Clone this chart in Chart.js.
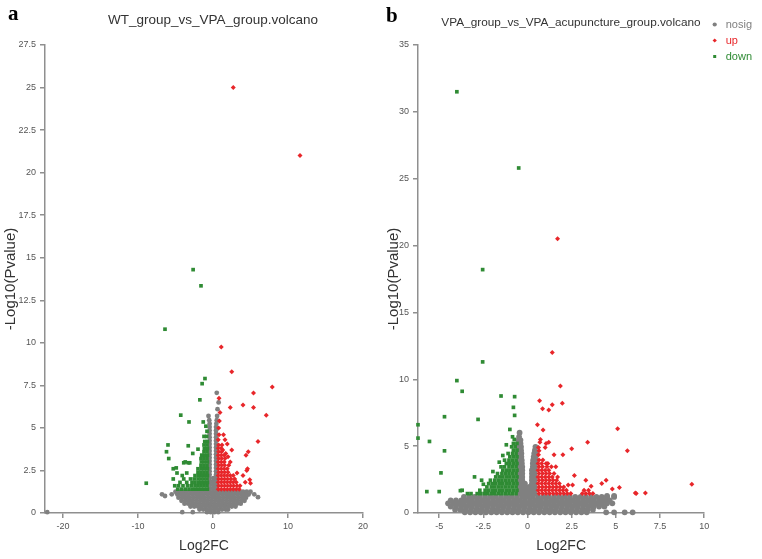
<!DOCTYPE html>
<html>
<head>
<meta charset="utf-8">
<title>Volcano plots</title>
<script src="https://cdn.jsdelivr.net/npm/chart.js@4.4.1/dist/chart.umd.min.js"></script>
<style>
  body { margin: 0; background: #fff; }
  #page { position: relative; width: 762px; height: 559px; overflow: hidden; }
  .panel { position: absolute; top: 0; height: 559px; }
  #panelA { left: 0; width: 426px; }
  #panelB { left: 380px; width: 382px; }
  .tag { position: absolute; font: bold 21px "Liberation Serif", serif; color: #000; line-height: 1; }
</style>
</head>
<body>
<div id="page">
  <div class="panel" id="panelA"><canvas id="chartA" width="426" height="559"></canvas></div>
  <div class="panel" id="panelB"><canvas id="chartB" width="382" height="559"></canvas></div>
  <div class="tag" style="left:8px;top:3px">a</div>
  <div class="tag" style="left:386px;top:5px">b</div>
</div>
<script>
// each row: [ -log10(p), [log2FC, log2FC, ...] ]

// ---- a: WT_group vs VPA_group ----
const wtNosig = [
  [1.25, [-5.0,-4.5,-4.0,-3.5,-3.0,-2.5,-2.0,-1.5,-1.0,-0.5,0.0,0.5,1.0,1.5,2.0,2.5,3.0,3.5,4.0,4.5,5.0]],
  [1.08, [-4.75,-4.25,-3.75,-3.25,-2.75,-2.25,-1.75,-1.25,-0.75,-0.25,0.25,0.75,1.25,1.75,2.25,2.75,3.25,3.75,4.25,4.75]],
  [0.9, [-4.6,-4.1,-3.6,-3.1,-2.6,-2.1,-1.6,-1.1,-0.6,-0.1,0.4,0.9,1.4,1.9,2.4,2.9,3.4,3.9,4.4]],
  [0.72, [-4.2,-3.7,-3.2,-2.7,-2.2,-1.7,-1.2,-0.7,-0.2,0.3,0.8,1.3,1.8,2.3,2.8,3.3,3.8,4.2]],
  [0.55, [-3.8,-3.3,-2.8,-2.3,-1.8,-1.3,-0.8,-0.3,0.2,0.7,1.2,1.7,2.2,2.7,3.2,3.7]],
  [0.38, [-3.0,-2.5,-2.0,-1.5,-1.0,-0.5,0.0,0.5,1.0,1.5,2.0,2.5,3.0]],
  [0.2, [-1.8,-1.3,-0.8,-0.3,0.2,0.7,1.2,1.7,2.0]],
  [0.05, [-22.1,-4.1,-2.7,-0.8,-0.3,0.2,0.7]],
  [1.1, [-6.8,-5.5,5.5]], [1.0, [-6.4]], [0.93, [6.0]],
  [1.45, [-0.45,0.0,0.4]], [1.65, [-0.45,0.0,0.4]], [1.85, [-0.45,0.0,0.4]],
  [2.05, [-0.45,0.05,0.4]], [2.25, [-0.45,0.4]], [2.45, [-0.45,0.4]],
  [2.65, [-0.45,0.4]], [2.85, [-0.45,0.4]], [3.05, [-0.45,0.4]],
  [3.25, [-0.45,0.4]], [3.45, [-0.45,0.4]], [3.65, [-0.45,0.4]],
  [3.85, [-0.45,0.4]], [4.05, [-0.45,0.4]], [4.25, [-0.45,0.4]],
  [4.45, [-0.45,0.4]], [4.65, [-0.45,0.4]], [4.85, [-0.45,0.4]],
  [5.05, [-0.45,0.4]], [5.25, [-0.45,0.45]], [5.45, [-0.5,0.5]],
  [5.7, [-0.6,0.55]], [6.1, [0.6]], [6.5, [0.75]], [7.06, [0.5]]
];
const wtUp = [
  [1.4, [0.7,1.1,1.5,1.9,2.3,2.7,3.1,3.5]],
  [1.6, [0.75,1.15,1.55,1.95,2.35,2.75,3.2,3.6]],
  [1.8, [0.7,1.1,1.5,1.9,2.3,2.7,3.1,4.3]],
  [1.75, [5.0]], [1.95, [4.9]],
  [2.0, [0.75,1.15,1.55,1.95,2.4,2.9]],
  [2.2, [0.7,1.1,1.5,1.9,2.3,2.7,4.0]],
  [2.35, [3.2]],
  [2.4, [0.75,1.15,1.55,2.0]],
  [2.5, [4.5]],
  [2.6, [0.7,1.1,1.5,1.9,4.6]],
  [2.8, [0.75,1.15,1.55,2.1]],
  [3.0, [0.7,1.1,1.5,2.3]],
  [3.2, [0.75,1.15,1.6]],
  [3.3, [2.0]],
  [3.4, [0.7,1.1,1.5,4.4]],
  [3.5, [1.7]],
  [3.6, [0.75,1.15,4.7]],
  [3.7, [1.3,2.5]],
  [3.8, [0.7,1.1]],
  [4.0, [0.75,1.2]],
  [4.05, [1.9]],
  [4.2, [6.0]],
  [4.3, [0.7,1.6]],
  [4.6, [0.8,1.4]],
  [5.0, [0.75]], [5.4, [0.85]], [5.75, [7.1]], [5.9, [0.93]],
  [6.2, [2.3,5.4]], [6.35, [4.0]], [6.75, [0.8]], [7.05, [5.4]],
  [7.4, [7.9]], [8.3, [2.5]], [9.76, [1.1]], [21.0, [11.6]], [25.0, [2.7]]
];
const wtDown = [
  [1.4, [-0.75,-1.15,-1.55,-1.95,-2.35,-2.75,-3.2,-3.7,-4.2,-4.7]],
  [1.6, [-0.8,-1.2,-1.6,-2.0,-2.4,-2.9,-3.4,-4.0,-4.6,-5.1]],
  [1.75, [-8.9]],
  [1.8, [-0.75,-1.15,-1.55,-1.95,-2.4,-2.8,-3.5,-4.4]],
  [2.0, [-0.8,-1.2,-1.6,-2.0,-2.5,-3.0,-3.9,-5.3]],
  [2.2, [-0.75,-1.15,-1.55,-1.95,-2.4,-4.1]],
  [2.35, [-4.8,-3.5]],
  [2.4, [-0.8,-1.2,-1.6,-2.0]],
  [2.6, [-0.75,-1.15,-1.55,-2.0,-5.3]],
  [2.65, [-4.9]],
  [2.8, [-0.8,-1.2,-1.6]],
  [2.95, [-3.9,-3.3,-3.1]],
  [3.0, [-0.75,-1.15,-1.55,-3.7]],
  [3.2, [-0.8,-1.2,-1.6,-5.9]],
  [3.4, [-0.75,-1.15,-1.5]],
  [3.5, [-2.7]],
  [3.6, [-0.8,-1.2,-6.2]],
  [3.75, [-2.0]],
  [3.8, [-0.75,-1.15]],
  [3.95, [-3.3]],
  [4.0, [-0.8,-1.2,-6.0]],
  [4.2, [-0.75,-1.1]],
  [4.5, [-0.85,-1.2]],
  [4.8, [-0.8]], [5.1, [-0.95]], [5.35, [-1.3,-3.2]], [5.75, [-4.3]],
  [6.65, [-1.75]], [7.6, [-1.45]], [7.9, [-1.07]], [10.8, [-6.4]],
  [13.35, [-1.6]], [14.3, [-2.65]]
];

// ---- b: VPA_group vs VPA_acupuncture_group ----
const acuNosig = [
  [1.2, [-3.6,-3.3,-3.0,-2.7,-2.4,-2.1,-1.8,-1.5,-1.2,-0.9,-0.6,-0.3,0.0,0.3,0.6,0.9,1.2,1.5,1.8,2.1,2.4,2.7,3.0,3.3,3.6,3.9,4.2,4.5,4.9]],
  [0.95, [-4.35,-4.05,-3.75,-3.45,-3.15,-2.85,-2.55,-2.25,-1.95,-1.65,-1.35,-1.05,-0.75,-0.45,-0.15,0.15,0.45,0.75,1.05,1.35,1.65,1.95,2.25,2.55,2.85,3.15,3.45,3.75,4.05,4.35,4.65]],
  [0.72, [-4.5,-4.2,-3.9,-3.6,-3.3,-3.0,-2.7,-2.4,-2.1,-1.8,-1.5,-1.2,-0.9,-0.6,-0.3,0.0,0.3,0.6,0.9,1.2,1.5,1.8,2.1,2.4,2.7,3.0,3.3,3.6,3.9,4.2,4.5,4.8]],
  [0.48, [-4.35,-4.05,-3.75,-3.45,-3.15,-2.85,-2.55,-2.25,-1.95,-1.65,-1.35,-1.05,-0.75,-0.45,-0.15,0.15,0.45,0.75,1.05,1.35,1.65,1.95,2.25,2.55,2.85,3.15,3.45,3.75,4.05,4.35]],
  [0.25, [-4.1,-3.8,-3.5,-3.2,-2.9,-2.6,-2.3,-2.0,-1.7,-1.4,-1.1,-0.8,-0.5,-0.2,0.1,0.4,0.7,1.0,1.3,1.6,1.9,2.2,2.5,2.8,3.1,3.4,3.7]],
  [0.05, [-3.55,-3.25,-2.95,-2.65,-2.35,-2.05,-1.75,-1.45,-1.15,-0.85,-0.55,-0.25,0.05,0.35,0.65,0.95,1.25,1.55,1.85,2.15,2.45,2.75,3.05,3.35,4.45,4.9,5.5,5.95]],
  [1.27, [4.5,4.9]], [1.1, [4.2]],
  [1.45, [-0.45,-0.3,-0.15,0.0,0.12,0.25,0.4]],
  [1.7, [-0.45,-0.3,-0.15,0.0,0.12,0.25,0.4]],
  [1.95, [-0.45,-0.3,-0.12,0.1,0.25,0.4]],
  [2.2, [-0.45,-0.3,-0.15,0.25,0.4]],
  [2.45, [-0.45,-0.3,0.25,0.4]],
  [2.7, [-0.45,-0.3,0.25,0.4]],
  [2.95, [-0.45,-0.3,0.25,0.4]],
  [3.2, [-0.45,-0.3,0.25,0.4]],
  [3.45, [-0.45,-0.3,0.3,0.42]],
  [3.7, [-0.45,-0.32,0.3,0.42]],
  [3.95, [-0.45,-0.33,0.32,0.44]],
  [4.2, [-0.47,-0.35,0.35,0.45]],
  [4.45, [-0.47,-0.35,0.38,0.46]],
  [4.7, [-0.48,-0.37,0.42]],
  [4.95, [-0.48,-0.37,0.45]],
  [5.2, [-0.5,-0.4]], [5.45, [-0.5,-0.4]], [5.7, [-0.48]], [6.0, [-0.45]]
];
const acuUp = [
  [1.45, [0.65,0.85,1.05,1.25,1.45,1.65,1.85,2.05,2.25,2.45,3.1,3.3,3.5,3.7,6.15]],
  [1.5, [6.1,6.67]],
  [1.7, [0.6,0.8,1.0,1.2,1.4,1.6,1.8,2.0,2.2,3.2,3.45]],
  [1.8, [4.8]], [1.9, [5.2]],
  [1.95, [0.65,0.85,1.05,1.25,1.45,1.65,1.85,2.05]],
  [2.0, [3.6]], [2.1, [2.3,2.55]], [2.15, [9.3]],
  [2.2, [0.6,0.8,1.0,1.2,1.4,1.6,1.8,4.2]],
  [2.45, [0.65,0.85,1.05,1.25,1.45,1.65,3.3,4.45]],
  [2.7, [0.6,0.8,1.0,1.2,1.4,1.7]],
  [2.8, [2.65]],
  [2.95, [0.65,0.85,1.05,1.25,1.5]],
  [3.2, [0.6,0.8,1.0,1.2]],
  [3.45, [0.65,0.85,1.1,1.35,1.6]],
  [3.7, [0.6,0.8,1.05,1.15]],
  [3.96, [0.65,0.87]],
  [4.35, [0.62,1.5,2.0]],
  [4.65, [0.65,5.65]],
  [4.8, [2.5]], [4.9, [0.62,1.0]], [5.2, [1.05]], [5.3, [0.7,1.2,3.4]],
  [5.5, [0.73]], [6.2, [0.88]], [6.3, [5.1]], [6.6, [0.56]],
  [7.7, [1.2]], [7.8, [0.85]], [8.1, [1.4]], [8.2, [1.97]], [8.4, [0.68]],
  [9.5, [1.86]], [12.0, [1.4]], [20.5, [1.7]]
];
const acuDown = [
  [1.45, [-0.65,-0.85,-1.05,-1.25,-1.45,-1.65,-1.85,-2.05,-2.25,-2.45,-2.65,-2.85,-3.2,-3.4]],
  [1.6, [-5.0,-5.7]], [1.67, [-3.8]],
  [1.7, [-0.6,-0.8,-1.0,-1.2,-1.4,-1.6,-1.8,-2.0,-2.2,-2.4,-2.7,-3.7]],
  [1.95, [-0.65,-0.85,-1.05,-1.25,-1.45,-1.65,-1.85,-2.05,-2.3]],
  [2.15, [-2.5]],
  [2.2, [-0.6,-0.8,-1.0,-1.2,-1.4,-1.6,-1.8,-2.0,-2.2]],
  [2.45, [-0.65,-0.85,-1.05,-1.25,-1.45,-1.65,-1.85,-2.1,-2.6]],
  [2.7, [-0.6,-0.8,-1.0,-1.2,-1.4,-1.6,-1.8,-3.0]],
  [2.95, [-0.65,-0.85,-1.05,-1.25,-1.45,-1.7]],
  [3.0, [-4.9]], [3.1, [-1.96]],
  [3.2, [-0.6,-0.8,-1.0,-1.2,-1.4]],
  [3.45, [-0.65,-0.85,-1.05,-1.3,-1.5]],
  [3.7, [-0.6,-0.8,-1.0,-1.2]],
  [3.8, [-1.6]],
  [3.95, [-0.65,-0.85,-1.05,-1.3]],
  [4.2, [-0.6,-0.8,-1.0]],
  [4.3, [-1.4]],
  [4.45, [-0.65,-0.85,-1.1]],
  [4.65, [-4.7]],
  [4.7, [-0.6,-0.8]],
  [4.95, [-0.7,-0.9]],
  [5.1, [-1.2]], [5.2, [-0.6,-0.8]], [5.35, [-5.55]], [5.5, [-0.75]],
  [5.6, [-6.2]], [5.7, [-0.85]], [6.25, [-1.0]], [6.6, [-6.2]],
  [7.0, [-2.8]], [7.2, [-4.7]], [7.3, [-0.73]], [7.9, [-0.8]],
  [8.7, [-0.73]], [8.75, [-1.5]], [9.1, [-3.7]], [9.9, [-4.0]],
  [11.3, [-2.54]], [18.2, [-2.54]], [25.8, [-0.5]], [31.5, [-4.0]]
];

const GREY = '#808080';
const RED = '#e8262a';
const GREEN = '#2f8b34';
const AXIS = '#8f8f8f';
const SANS = '"Liberation Sans", Arial, sans-serif';

function toPoints(rows) {
  const pts = [];
  rows.forEach(r => r[1].forEach(x => pts.push({ x: x, y: r[0] })));
  return pts;
}

function volcano(canvasId, cfg) {
  const sets = [
    { label: 'down', rows: cfg.down, style: 'rect', radius: 2.6, color: GREEN },
    { label: 'up', rows: cfg.up, style: 'rectRot', radius: 2.5, color: RED },
    { label: 'nosig', rows: cfg.nosig, style: 'circle', radius: cfg.greyRadius, color: GREY }
  ];
  return new Chart(document.getElementById(canvasId), {
    type: 'scatter',
    data: {
      datasets: sets.map(s => ({
        label: s.label,
        data: toPoints(s.rows),
        pointStyle: s.style,
        pointRadius: s.radius,
        pointHoverRadius: s.radius,
        pointBackgroundColor: s.color,
        pointBorderColor: s.color,
        pointBorderWidth: 0,
        backgroundColor: s.color,
        borderColor: s.color,
        clip: false
      }))
    },
    options: {
      responsive: false,
      animation: false,
      devicePixelRatio: 1,
      events: [],
      layout: { padding: cfg.padding },
      plugins: {
        tooltip: { enabled: false },
        title: {
          display: true,
          text: cfg.title,
          color: '#333',
          font: { family: SANS, size: cfg.titleSize, weight: 'normal' },
          padding: cfg.titlePadding
        },
        legend: {
          display: cfg.legend,
          position: 'right',
          align: 'start',
          labels: {
            usePointStyle: true,
            boxWidth: 11,
            boxHeight: 3,
            padding: 5,
            font: { family: SANS, size: 11 },
            sort: (a, b) => b.datasetIndex - a.datasetIndex,
            generateLabels: chart => Chart.defaults.plugins.legend.labels.generateLabels(chart)
              .map(item => Object.assign(item, { fontColor: sets[item.datasetIndex].color }))
          }
        }
      },
      scales: {
        x: {
          type: 'linear',
          min: cfg.xMin,
          max: cfg.xMax,
          afterFit: s => { s.height = 46; },
          ticks: {
            stepSize: cfg.xStep,
            includeBounds: false,
            autoSkip: false,
            maxRotation: 0,
            padding: 3,
            color: '#555',
            font: { family: SANS, size: 9 },
            callback: v => String(v)
          },
          grid: { drawOnChartArea: false, tickLength: 5, color: AXIS, lineWidth: 1.5 },
          border: { color: AXIS, width: 1.5 },
          title: { display: true, text: 'Log2FC', color: '#333', font: { family: SANS, size: 14 }, padding: { top: 0, bottom: 4 } }
        },
        y: {
          type: 'linear',
          min: 0,
          max: cfg.yMax,
          afterFit: s => { s.width = cfg.yWidth; },
          ticks: {
            stepSize: cfg.yStep,
            autoSkip: false,
            padding: 4,
            color: '#555',
            font: { family: SANS, size: 9 },
            callback: v => String(v)
          },
          grid: { drawOnChartArea: false, tickLength: 5, color: AXIS, lineWidth: 1.5 },
          border: { color: AXIS, width: 1.5 },
          title: { display: true, text: '-Log10(Pvalue)', color: '#333', font: { family: SANS, size: 15 }, padding: { top: cfg.yTitlePad, bottom: 0 } }
        },
        // empty right-hand strip, keeps the title centred over the whole figure column
        pad: {
          type: 'linear',
          position: 'right',
          display: cfg.rightPad > 0,
          afterFit: s => { s.width = cfg.rightPad; },
          ticks: { display: false },
          grid: { display: false },
          border: { display: false }
        }
      }
    }
  });
}

volcano('chartA', {
  title: 'WT_group_vs_VPA_group.volcano',
  titleSize: 13.5,
  titlePadding: { top: 12.6, bottom: 16.2 },
  padding: { top: 0, right: 0, bottom: 0, left: 0 },
  rightPad: 63,
  legend: false,
  greyRadius: 2.4,
  nosig: wtNosig, up: wtUp, down: wtDown,
  xMin: -22.4, xMax: 20, xStep: 10,
  yMax: 27.5, yStep: 2.5, yWidth: 45, yTitlePad: 2
});

volcano('chartB', {
  title: 'VPA_group_vs_VPA_acupuncture_group.volcano',
  titleSize: 11.8,
  titlePadding: { top: 1.5, bottom: 15.3 },
  padding: { top: 14, right: 0, bottom: 0, left: 0 },
  rightPad: 0,
  legend: true,
  greyRadius: 2.9,
  nosig: acuNosig, up: acuUp, down: acuDown,
  xMin: -6.2, xMax: 10, xStep: 2.5,
  yMax: 35, yStep: 5, yWidth: 38, yTitlePad: 5
});
</script>
</body>
</html>
